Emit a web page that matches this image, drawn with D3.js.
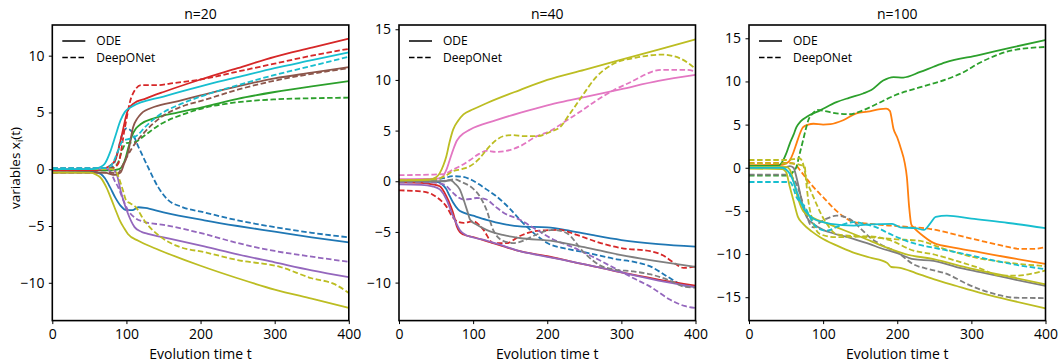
<!DOCTYPE html>
<html>
<head>
<meta charset="utf-8">
<script src="https://cdn.jsdelivr.net/npm/d3@7"></script>
<style>
  body { margin: 0; background: #fff; }
  text { font-family: "Open Sans", sans-serif; }
</style>
</head>
<body>
<script>
// tab10 colours, keyed by name
const tab10 = {blue: "#1f77b4", orange: "#ff7f0e", green: "#2ca02c", red: "#d62728", purple: "#9467bd",
  brown: "#8c564b", pink: "#e377c2", gray: "#7f7f7f", olive: "#bcbd22", cyan: "#17becf"};

const xTicks = [0, 100, 200, 300, 400];
const titles = ["n=20", "n=40", "n=100"];
const legendLabels = ["ODE", "DeepONet"];

// ---- n=20 : [t, x] pairs
const n20Ode = {
  blue: [[0,-0.1],[55,-0.2],[65,-0.4],[71,-0.8],[78,-1.6],[85,-2.5],[92,-3.2],[100,-3.6],[108,-3.6],[116,-3.35],[125,-3.4],[150,-3.8],[205,-4.5],[250,-5.0],[300,-5.5],[350,-6.0],[400,-6.45]],
  green: [[0,-0.1],[80,-0.1],[90,0.0],[98,0.8],[103,2.0],[107,2.85],[113,3.6],[120,4.0],[138,4.5],[170,5.0],[205,5.5],[250,6.2],[300,6.8],[350,7.3],[400,7.75]],
  red: [[0,-0.1],[60,-0.1],[75,0.2],[85,0.8],[93,2.8],[102,5.2],[110,5.8],[125,6.2],[150,6.8],[200,7.9],[250,8.9],[300,9.9],[350,10.7],[400,11.5]],
  purple: [[0,0.0],[80,0.0],[86,-0.3],[93,-2.1],[102,-3.9],[111,-5.1],[120,-5.5],[129,-5.7],[150,-6.0],[205,-6.8],[250,-7.5],[300,-8.2],[350,-8.9],[400,-9.5]],
  brown: [[0,-0.3],[70,-0.3],[85,-0.5],[92,-0.3],[97,0.5],[102,1.4],[109,3.7],[115,4.5],[120,4.9],[138,5.5],[170,6.0],[200,6.5],[250,7.3],[300,8.0],[350,8.5],[400,9.0]],
  olive: [[0,-0.3],[50,-0.3],[60,-0.5],[66,-0.8],[73,-1.6],[80,-2.7],[86,-3.7],[91,-4.5],[97,-5.2],[102,-5.7],[116,-6.3],[140,-7.0],[179,-8.0],[200,-8.5],[250,-9.6],[300,-10.6],[350,-11.4],[400,-12.2]],
  cyan: [[0,0.0],[55,0.0],[65,0.2],[71,0.5],[78,1.5],[85,2.9],[92,4.3],[98,5.05],[107,5.5],[150,6.4],[200,7.3],[250,8.1],[300,8.9],[350,9.6],[400,10.3]]
};
const n20Net = {
  blue: [[0,0.0],[75,0.0],[82,0.3],[88,1.5],[94,3.0],[100,3.6],[106,3.4],[116,2.0],[129,0.2],[143,-1.6],[156,-2.7],[174,-3.3],[205,-3.8],[250,-4.5],[300,-5.1],[350,-5.6],[400,-6.0]],
  green: [[0,0.1],[80,0.1],[88,0.5],[95,1.8],[100,2.3],[112,2.4],[125,3.0],[147,4.0],[175,4.8],[205,5.4],[250,5.9],[300,6.15],[350,6.25],[400,6.3]],
  red: [[0,0.0],[70,0.0],[82,0.1],[89,0.5],[98,3.7],[107,6.4],[120,7.4],[140,7.4],[165,7.6],[200,7.9],[250,8.6],[300,9.3],[350,10.0],[400,10.6]],
  purple: [[0,0.1],[70,0.1],[78,-0.2],[84,-1.0],[89,-1.6],[95,-2.6],[102,-3.6],[112,-4.3],[125,-4.65],[150,-4.9],[205,-5.7],[250,-6.5],[300,-7.2],[350,-7.7],[400,-8.15]],
  brown: [[0,-0.3],[80,-0.3],[88,-0.4],[94,0.2],[100,1.0],[107,1.8],[125,3.3],[147,4.6],[174,5.5],[205,6.1],[250,7.0],[300,7.8],[350,8.4],[400,8.9]],
  olive: [[0,0.0],[80,0.0],[86,-0.2],[90,-0.8],[95,-1.8],[100,-2.8],[105,-3.0],[112,-3.3],[125,-4.6],[147,-6.0],[170,-6.8],[205,-7.3],[250,-8.0],[307,-8.6],[350,-9.6],[380,-10.1],[400,-10.9]],
  cyan: [[0,0.1],[70,0.1],[80,0.4],[88,1.5],[95,2.5],[105,2.7],[115,3.0],[125,3.7],[147,4.9],[170,5.65],[200,6.4],[250,7.4],[300,8.3],[350,9.1],[400,9.9]]
};

// ---- n=40
const n40Ode = {
  blue: [[0,0.0],[50,-0.05],[58,-0.3],[64,-0.8],[68,-1.4],[73,-2.1],[80,-2.8],[87,-3.1],[100,-3.4],[118,-3.8],[140,-4.2],[163,-4.45],[200,-4.55],[231,-4.9],[260,-5.3],[300,-5.8],[350,-6.2],[400,-6.45]],
  red: [[0,-0.1],[30,-0.15],[45,-0.3],[55,-0.5],[64,-1.5],[70,-2.5],[73,-3.1],[78,-4.45],[82,-5.0],[87,-5.25],[100,-5.5],[118,-5.9],[140,-6.4],[163,-6.9],[200,-7.4],[231,-7.9],[270,-8.5],[300,-9.0],[350,-9.7],[400,-10.3]],
  purple: [[0,-0.3],[30,-0.35],[45,-0.5],[55,-0.8],[64,-1.8],[73,-3.45],[82,-4.8],[90,-5.3],[100,-5.55],[118,-5.85],[140,-6.35],[163,-6.9],[200,-7.45],[231,-7.9],[270,-8.5],[300,-9.0],[350,-9.8],[400,-10.45]],
  pink: [[0,0.2],[50,0.25],[58,0.4],[64,1.15],[68,2.0],[73,3.1],[78,4.0],[82,4.4],[96,5.1],[130,6.0],[163,6.75],[200,7.5],[231,8.0],[250,8.3],[300,9.1],[350,9.9],[400,10.5]],
  gray: [[0,0.0],[60,0.0],[70,0.1],[75,-0.2],[82,-0.8],[88,-2.0],[92,-2.9],[96,-3.8],[105,-4.3],[118,-4.8],[140,-5.3],[163,-5.6],[208,-5.9],[250,-6.5],[300,-7.3],[350,-7.9],[400,-8.45]],
  olive: [[0,0.1],[40,0.15],[50,0.4],[55,0.8],[60,1.6],[64,2.5],[68,3.8],[73,5.1],[80,6.0],[87,6.6],[100,7.1],[118,7.7],[163,9.0],[200,10.0],[250,11.0],[300,12.0],[350,13.0],[400,14.0]]
};
const n40Net = {
  blue: [[0,0.1],[40,0.1],[60,0.3],[73,0.5],[85,0.45],[96,0.2],[108,-0.3],[118,-0.8],[130,-1.4],[141,-2.1],[152,-2.9],[163,-3.8],[177,-4.8],[190,-5.6],[200,-6.1],[222,-6.6],[250,-7.0],[294,-7.7],[320,-8.0],[339,-8.4],[362,-9.4],[385,-10.3],[400,-10.4]],
  red: [[0,-0.9],[30,-1.0],[45,-1.3],[55,-1.8],[64,-2.5],[73,-3.6],[80,-4.0],[87,-4.1],[100,-3.95],[108,-4.3],[114,-4.8],[127,-6.1],[145,-6.1],[163,-5.4],[186,-4.9],[217,-4.8],[240,-5.3],[272,-6.1],[300,-6.6],[339,-6.9],[356,-7.3],[370,-8.0],[384,-8.55],[400,-8.4]],
  purple: [[0,-0.1],[40,-0.1],[60,-0.3],[73,-1.15],[80,-1.6],[87,-1.8],[96,-1.75],[105,-1.65],[118,-1.8],[130,-2.5],[141,-3.1],[163,-3.8],[186,-4.8],[208,-5.75],[231,-6.4],[260,-7.4],[294,-8.7],[320,-9.7],[339,-10.4],[366,-11.7],[385,-12.3],[400,-12.5]],
  pink: [[0,0.6],[40,0.65],[60,0.7],[73,1.15],[85,1.6],[96,2.1],[108,2.7],[118,3.0],[130,2.9],[141,2.95],[163,3.45],[186,4.45],[205,5.0],[226,6.0],[242,6.75],[265,7.9],[290,9.0],[310,9.7],[355,11.0],[385,11.0],[400,10.85]],
  gray: [[0,0.0],[50,0.0],[65,0.1],[75,0.2],[85,-0.1],[96,-0.5],[109,-1.5],[118,-2.8],[127,-4.8],[141,-5.9],[154,-6.1],[170,-5.8],[181,-5.4],[208,-4.8],[226,-5.1],[249,-7.0],[271,-8.3],[290,-8.7],[316,-8.9],[340,-9.2],[362,-9.7],[385,-10.4],[400,-10.5]],
  olive: [[0,0.1],[50,0.2],[62,0.5],[73,1.0],[85,1.2],[96,1.5],[108,2.2],[118,3.1],[130,4.0],[141,4.45],[152,4.55],[170,4.45],[186,4.45],[205,4.9],[218,5.4],[229,6.5],[247,8.4],[265,10.2],[287,11.5],[320,12.2],[355,12.5],[380,12.1],[400,11.1]]
};

// ---- n=100
const n100Ode = {
  orange: [[0,0.3],[45,0.35],[50,0.5],[55,0.85],[60,1.8],[64,2.8],[68,3.8],[73,4.7],[80,5.0],[87,5.1],[100,5.0],[110,5.05],[127,5.5],[145,6.3],[160,6.5],[177,6.8],[185,6.85],[190,6.6],[195,4.5],[200,3.5],[205,2.2],[210,0.6],[213,-1.1],[216,-4.5],[219,-6.6],[222,-6.9],[235,-7.9],[249,-8.7],[280,-9.3],[312,-9.8],[350,-10.4],[400,-11.15]],
  green: [[0,0.2],[40,0.25],[46,0.85],[50,1.6],[55,2.8],[60,3.8],[64,4.7],[70,5.4],[78,5.9],[96,6.65],[118,7.6],[135,8.1],[154,8.6],[165,9.0],[181,10.1],[195,10.5],[208,10.45],[231,11.1],[249,11.7],[265,12.2],[310,13.05],[355,13.95],[400,14.8]],
  gray: [[0,0.0],[50,0.05],[55,0.2],[60,0.0],[64,-1.1],[69,-3.0],[73,-4.6],[78,-5.75],[87,-6.5],[100,-7.2],[110,-7.5],[141,-8.25],[163,-8.85],[177,-9.3],[200,-9.9],[222,-10.6],[249,-10.8],[280,-11.5],[312,-12.1],[350,-12.8],[400,-13.7]],
  olive: [[0,-0.1],[45,-0.15],[50,-0.5],[55,-2.2],[60,-3.8],[66,-5.7],[73,-6.5],[85,-7.4],[96,-8.05],[118,-9.0],[140,-9.8],[163,-10.4],[186,-11.0],[192,-11.5],[204,-11.6],[225,-12.2],[249,-12.9],[280,-13.7],[312,-14.5],[350,-15.3],[400,-16.3]],
  olive2: [[0,0.1],[50,0.1],[55,-0.2],[60,-1.5],[66,-3.5],[73,-5.0],[85,-5.75],[107,-6.5],[130,-7.3],[152,-8.05],[184,-9.2],[211,-10.0],[249,-10.6],[300,-11.7],[350,-12.6],[400,-13.5]],
  cyan: [[0,0.0],[45,0.0],[50,-0.2],[55,-0.7],[60,-1.6],[64,-2.6],[68,-3.6],[73,-4.6],[80,-5.4],[87,-5.9],[100,-6.3],[110,-6.5],[141,-6.7],[165,-6.55],[193,-6.5],[204,-6.9],[225,-7.0],[236,-7.2],[244,-6.5],[252,-5.7],[267,-5.55],[300,-5.9],[350,-6.4],[400,-7.0]]
};
const n100Net = {
  orange: [[0,0.55],[55,0.55],[62,0.4],[69,-0.3],[78,-1.3],[87,-2.25],[100,-3.4],[118,-5.0],[130,-5.8],[141,-6.3],[163,-6.5],[190,-6.7],[222,-6.9],[245,-7.1],[267,-7.5],[290,-8.0],[312,-8.45],[340,-9.0],[366,-9.4],[385,-9.4],[400,-9.2]],
  green: [[0,-0.9],[50,-0.9],[57,-0.7],[60,-0.4],[64,0.1],[68,1.5],[73,3.2],[77,4.6],[80,5.5],[86,6.3],[92,6.7],[100,6.6],[118,6.3],[135,6.2],[152,6.6],[175,7.5],[197,8.4],[230,9.3],[265,10.2],[290,11.1],[310,12.1],[330,12.9],[355,13.6],[400,14.0]],
  gray: [[0,-0.8],[50,-0.8],[56,-0.95],[64,-1.9],[68,-2.8],[73,-4.2],[78,-5.5],[82,-6.5],[87,-6.9],[96,-6.3],[105,-5.9],[118,-5.55],[136,-5.95],[150,-7.0],[163,-8.05],[180,-9.0],[200,-9.8],[222,-11.2],[245,-11.8],[267,-12.3],[290,-13.3],[312,-14.1],[335,-14.7],[357,-15.05],[400,-15.1]],
  olive: [[0,0.9],[50,0.9],[60,1.0],[68,1.1],[72,0.7],[78,-1.5],[85,-3.0],[91,-4.2],[98,-5.5],[105,-6.5],[118,-7.7],[140,-7.9],[163,-8.05],[200,-8.3],[229,-8.45],[260,-9.3],[300,-10.3],[350,-11.0],[400,-11.4]],
  olive2: [[0,0.5],[60,0.5],[70,0.3],[75,0.2],[77,-1.5],[80,-3.8],[85,-5.9],[96,-7.7],[118,-8.05],[140,-8.0],[163,-7.95],[190,-8.4],[222,-9.6],[247,-10.0],[280,-10.8],[310,-11.6],[340,-12.5],[360,-12.5],[380,-12.3],[400,-11.9]],
  cyan: [[0,-1.65],[50,-1.65],[56,-1.7],[60,-2.4],[64,-3.4],[70,-4.0],[76,-4.6],[82,-5.7],[91,-6.9],[105,-7.3],[120,-6.8],[141,-6.3],[160,-6.6],[172,-6.9],[186,-7.5],[200,-8.05],[226,-8.85],[245,-9.2],[280,-9.8],[312,-10.4],[357,-11.2],[400,-11.75]]
};

const yDomains = [[-13.33, 12.7], [-13.75, 15.42], [-17.71, 16.54]];
const yTickSets = [[-10, -5, 0, 5, 10], [-10, -5, 0, 5, 10, 15], [-15, -10, -5, 0, 5, 10, 15]];
const odeSets = [n20Ode, n40Ode, n100Ode];
const netSets = [n20Net, n40Net, n100Net];

// layout
const W = 1062, H = 364;
const lefts = [52.3, 399, 749];
const plotW = 296.5, plotTop = 25, plotBottom = 320.6;
const fmt = d => d < 0 ? "\u2212" + Math.abs(d) : String(d);

const svg = d3.select("body").append("svg")
  .attr("width", W).attr("height", H);

titles.forEach(function(title, p) {
  const x0 = lefts[p];
  const x = d3.scaleLinear().domain([0, 400]).range([x0, x0 + plotW]);
  const y = d3.scaleLinear().domain(yDomains[p]).range([plotBottom, plotTop]);

  const g = svg.append("g");

  g.append("clipPath").attr("id", "clip" + p)
    .append("rect").attr("x", x0).attr("y", plotTop).attr("width", plotW).attr("height", plotBottom - plotTop);

  const line = d3.line()
    .x(d => x(d[0]))
    .y(d => y(d[1]))
    .curve(d3.curveMonotoneX);

  const lines = g.append("g").attr("clip-path", "url(#clip" + p + ")");
  const ode = odeSets[p], net = netSets[p];
  Object.keys(ode).forEach(function(k) {
    const col = tab10[k.replace(/\d+$/, "")];
    lines.append("path").datum(ode[k])
      .attr("fill", "none").attr("stroke", col).attr("stroke-width", 1.8)
      .attr("d", line);
    lines.append("path").datum(net[k])
      .attr("fill", "none").attr("stroke", col).attr("stroke-width", 1.8)
      .attr("stroke-dasharray", "5.5,2.6")
      .attr("d", line);
  });

  // axes
  const ax = g.append("g").attr("transform", "translate(0," + plotBottom + ")")
    .call(d3.axisBottom(x).tickValues(xTicks).tickSize(3.5).tickSizeOuter(0).tickFormat(fmt));
  const ay = g.append("g").attr("transform", "translate(" + x0 + ",0)")
    .call(d3.axisLeft(y).tickValues(yTickSets[p]).tickSize(3.5).tickSizeOuter(0).tickFormat(fmt));
  [ax, ay].forEach(function(a) {
    a.select(".domain").remove();
    a.selectAll(".tick line").attr("stroke", "#000").attr("stroke-width", 1);
    a.selectAll("text").attr("font-family", "Open Sans").attr("font-size", 14).attr("fill", "#000");
  });
  ax.selectAll("text").attr("dy", "0.85em");
  ay.selectAll("text").attr("dx", "-0.1em");

  // frame
  g.append("rect").attr("x", x0).attr("y", plotTop).attr("width", plotW).attr("height", plotBottom - plotTop)
    .attr("fill", "none").attr("stroke", "#000").attr("stroke-width", 1.6);

  // title & x label
  g.append("text").attr("x", x0 + plotW / 2).attr("y", 18.5).attr("text-anchor", "middle")
    .attr("font-size", 14).text(title);
  g.append("text").attr("x", x0 + plotW / 2).attr("y", 358.5).attr("text-anchor", "middle")
    .attr("font-size", 14).text("Evolution time t");

  // legend
  legendLabels.forEach(function(lab, i) {
    const ly = 41 + i * 16.5;
    g.append("line").attr("x1", x0 + 10).attr("x2", x0 + 33).attr("y1", ly).attr("y2", ly)
      .attr("stroke", "#000").attr("stroke-width", 1.5)
      .attr("stroke-dasharray", i ? "5.5,2.6" : null);
    g.append("text").attr("x", x0 + 44).attr("y", ly).attr("dy", "0.35em")
      .attr("font-size", 12).text(lab);
  });
});

// y label
const yl = svg.append("text").attr("transform", "translate(20,168) rotate(-90)")
  .attr("text-anchor", "middle").attr("font-size", 13.5);
yl.append("tspan").text("variables x");
yl.append("tspan").attr("font-size", 9).attr("dy", 3).text("i");
yl.append("tspan").attr("dy", -3).text("(t)");
</script>
</body>
</html>
